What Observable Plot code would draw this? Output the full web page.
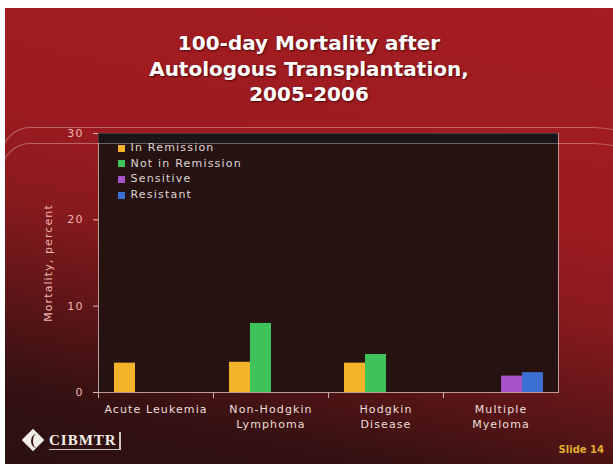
<!DOCTYPE html>
<html>
<head>
<meta charset="utf-8">
<script src="https://cdn.jsdelivr.net/npm/d3@7"></script>
<script src="https://cdn.jsdelivr.net/npm/@observablehq/plot@0.6"></script>
<style>
  html, body { margin: 0; padding: 0; background: #fff; }
  #page { position: relative; width: 613px; height: 464px; overflow: hidden; background: #fff; font-family: "DejaVu Sans", sans-serif; }
  #slide, #deco {
    position: absolute; left: 5px; top: 8px; width: 608px; height: 456px; overflow: hidden;
  }
  #slide { background: linear-gradient(192deg, #a41d22 0%, #9d1b20 38%, #861a1d 55%, #5a1517 72%, #351111 86%, #2b1010 100%); }
  #deco { pointer-events: none; }
  .arc { position: absolute; left: -4px; width: 637px; height: 400px; border: 1px solid rgba(255,255,255,0.33); border-bottom: none;
         border-top-left-radius: 29px 30px; border-top-right-radius: 48px 22px; }
  .band { position: absolute; left: 93px; top: 125px; width: 460px; height: 10px; background: rgba(22,22,28,0.72); }
  #chart { position: absolute; left: 0; top: 0; }
  #title { position: absolute; left: 0; width: 618px; top: 31px; text-align: center; color: #fff;
           font: bold 20px/25.5px "DejaVu Sans", sans-serif; text-shadow: 1px 1px 2px rgba(40,0,0,0.7); }
  #legend { position: absolute; left: 118px; top: 141px; }
  #logo { position: absolute; left: 22px; top: 428px; height: 26px; }
  #logo .diamond { position: absolute; left: 3px; top: 4px; width: 16px; height: 16px; background: #f4eeea; transform: rotate(45deg); }
  #logo .swoosh { position: absolute; left: 9px; top: 6px; width: 9px; height: 14px; border-left: 2px solid #3a1512; border-radius: 50%; }
  #logo .word { position: absolute; left: 27px; top: 4px; font: bold 15px "Liberation Serif", serif; color: #f4eeea; letter-spacing: 1px;
                border-right: 2px solid #cfc6c2; border-bottom: 1px solid #cfc6c2; padding-right: 2px; line-height: 17px; }
  #slideno { position: absolute; right: 9px; top: 444px; font: bold 10px "DejaVu Sans", sans-serif; color: #e0ad2e; }
</style>
</head>
<body>
<div id="page">
  <div id="slide"></div>
  <div id="chart"></div>
  <div id="deco">
    <div class="band"></div>
    <div class="arc" style="top:119px"></div>
    <div class="arc" style="top:135px"></div>
  </div>
  <div id="title">100-day Mortality after<br>Autologous Transplantation,<br>2005-2006</div>
  <div id="legend"></div>
  <div id="logo"><div class="diamond"></div><div class="swoosh"></div><div class="word">CIBMTR</div></div>
  <div id="slideno">Slide 14</div>
</div>
<script>
// Disease groups along the bottom, and the wording of their axis labels
const categories = ["Acute Leukemia", "Non-Hodgkin Lymphoma", "Hodgkin Disease", "Multiple Myeloma"];
const categoryLabels = ["Acute Leukemia", "Non-Hodgkin\nLymphoma", "Hodgkin\nDisease", "Multiple\nMyeloma"];

// Disease status series
const series = ["In Remission", "Not in Remission", "Sensitive", "Resistant"];

// 100-day mortality (%) per disease group; null where the status does not apply
const inRemission    = [3.4, 3.5, 3.4, null];
const notInRemission = [null, 8.0, 4.4, null];
const sensitive      = [null, null, null, 1.9];
const resistant      = [null, null, null, 2.3];

const yTicks = [0, 10, 20, 30];

// Palette
const palette = ["#f4b42a", "#3ec25a", "#a752c6", "#3c6fd2"];

const valuesBySeries = [inRemission, notInRemission, sensitive, resistant];
const rows = [];
series.forEach((s, i) => {
  categories.forEach((c, j) => {
    const v = valuesBySeries[i][j];
    if (v != null) rows.push({category: c, series: s, value: v});
  });
});

const W = 613, H = 464;
const mL = 98, mR = 55, mT = 133, mB = 72;
const plotH = H - mT - mB;
const lineColor = "#cbb0aa";

const chart = Plot.plot({
  width: W,
  height: H,
  marginLeft: mL,
  marginRight: mR,
  marginTop: mT,
  marginBottom: mB,
  style: {background: "transparent", fontFamily: "DejaVu Sans, sans-serif", fontSize: "11px", letterSpacing: "1.1px", overflow: "visible"},
  fx: {domain: categories, padding: 0, axis: null, label: null},
  x: {domain: series, axis: null, paddingInner: 0, paddingOuter: 0.675},
  y: {domain: [0, 30], axis: null},
  color: {domain: series, range: palette},
  marks: [
    Plot.frame({facet: "super", fill: "#261210", stroke: null}),
    Plot.barY(rows, {fx: "category", x: "series", y: "value", fill: "series", inset: 0}),
    Plot.ruleY([0], {stroke: lineColor, strokeWidth: 1.2}),
    Plot.frame({anchor: "left", stroke: lineColor, insetTop: plotH, insetBottom: -5}),
    Plot.frame({facet: "super", fill: null, stroke: "#b99b97", strokeWidth: 1}),
    Plot.axisY({
      ticks: yTicks,
      tickSize: 5,
      tickPadding: 10,
      color: "#f0b6b2",
      fontSize: 11,
      label: "Mortality, percent",
      labelAnchor: "center",
      labelArrow: "none",
      labelOffset: 54
    }),
    Plot.axisFx({
      anchor: "bottom",
      tickSize: 0,
      tickPadding: 10,
      lineHeight: 1.35,
      fill: "#ebdfda",
      fontSize: 11,
      label: null,
      tickFormat: (d) => categoryLabels[categories.indexOf(d)]
    })
  ]
});
document.getElementById("chart").appendChild(chart);

const legend = chart.legend("color", {
  legend: "swatches",
  columns: 1,
  swatchSize: 7,
  style: {fontFamily: "DejaVu Sans, sans-serif", fontSize: "11px", letterSpacing: "1.2px", color: "#dfd6d3", lineHeight: "14.6px", background: "transparent", margin: 0}
});
document.getElementById("legend").appendChild(legend);
</script>
</body>
</html>
